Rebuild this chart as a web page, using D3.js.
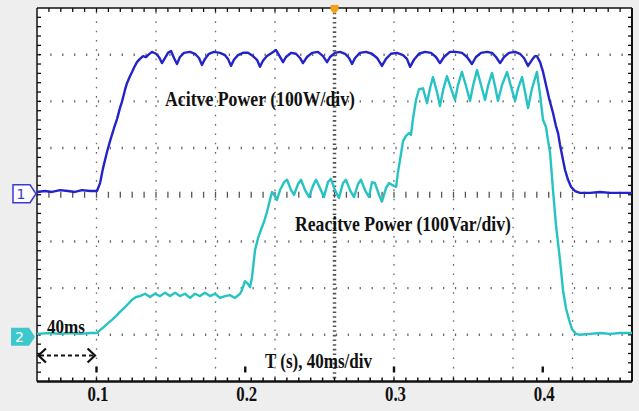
<!DOCTYPE html>
<html><head><meta charset="utf-8">
<script src="https://cdn.jsdelivr.net/npm/d3@7"></script>
<style>html,body{margin:0;padding:0;background:#eeeeee;}svg{display:block;}</style>
</head><body>
<svg id="c" width="639" height="411"></svg>
<script>
// ---- data (time in ms, power in W / Var) ----
const timeP = [60.0,65.4,70.1,75.5,80.8,85.5,90.3,95.6,100.3,102.4,104.4,107.1,109.1,111.8,113.8,115.8,117.1,119.2,120.5,122.5,123.9,125.2,127.2,129.2,131.3,133.3,134.6,137.3,140.0,142.0,144.0,146.1,148.1,150.1,152.1,154.1,156.1,158.8,162.9,166.2,168.9,170.9,172.9,175.6,179.0,183.0,186.4,188.4,190.4,192.4,195.1,198.5,201.8,205.2,207.9,209.9,211.9,214.6,218.0,220.7,222.7,225.4,227.4,230.8,234.1,236.8,238.8,241.5,244.9,248.9,252.3,255.0,257.0,260.3,263.7,267.1,269.8,271.8,273.8,277.1,281.2,285.2,288.6,291.9,294.6,298.0,302.0,306.1,308.7,310.8,313.4,316.8,320.8,324.9,328.2,330.9,333.6,337.6,341.7,345.7,349.1,352.4,355.1,358.5,362.5,365.9,368.6,371.3,374.0,377.3,381.4,384.7,387.4,390.1,392.8,394.8,396.1,398.2,400.2,402.2,404.2,406.9,408.9,410.3,411.6,413.6,415.0,417.0,419.0,421.7,425.0,431.8,438.5,445.2,451.9,460.0];
const activePower = [6,8,6,10,8,6,10,8,8,25,57,92,115,143,162,186,199,225,239,254,263,272,284,291,297,295,299,306,302,295,282,293,304,308,293,280,295,304,306,302,293,278,291,302,306,304,299,291,276,289,299,304,304,297,289,274,287,297,304,310,299,284,295,304,302,293,282,295,304,306,297,284,295,304,306,302,293,280,293,304,306,302,293,276,291,302,304,299,291,274,289,302,306,304,295,282,295,306,306,304,295,280,295,304,306,304,295,282,295,304,306,302,293,276,289,297,297,284,263,235,207,175,147,132,107,75,53,32,17,8,4,4,6,4,4,4];

const timeQ = [60.0,68.7,75.5,82.2,88.9,95.6,100.3,102.4,105.0,107.7,110.4,113.1,115.8,118.5,121.2,123.9,126.6,129.2,132.6,136.0,139.3,142.7,146.1,149.4,152.8,156.1,159.5,162.9,166.2,169.6,172.9,176.3,179.7,183.0,186.4,189.7,193.1,196.5,197.8,199.8,201.8,203.2,204.5,206.6,208.6,210.6,212.6,214.6,216.6,218.0,220.0,221.3,223.4,226.1,228.1,230.8,232.8,235.5,237.5,240.2,242.9,245.5,247.6,250.3,252.9,255.6,257.6,260.3,263.0,265.7,267.7,270.4,273.1,275.8,277.8,280.5,283.2,285.2,287.2,289.9,291.9,294.6,296.6,298.7,301.4,302.7,304.0,306.1,308.1,310.1,311.4,312.8,314.8,316.8,319.5,322.2,324.2,326.2,328.9,330.9,333.0,335.6,338.3,341.0,343.0,345.7,348.4,351.1,353.1,355.8,358.5,361.2,363.2,365.9,367.9,369.9,372.6,376.0,378.7,381.4,383.4,386.1,388.1,390.1,392.8,396.1,398.2,400.2,402.2,403.5,404.9,406.9,408.9,411.6,413.6,415.6,417.7,419.7,422.4,425.0,431.8,438.5,445.2,451.9,460.0];
const reactivePower = [2,4,2,4,2,4,4,10,17,25,32,40,49,57,66,75,81,83,88,81,88,83,90,83,90,83,88,79,88,83,90,83,88,79,83,85,79,88,96,115,109,102,122,182,207,225,242,263,289,306,297,289,310,327,332,310,300,323,332,310,295,319,332,314,295,327,334,310,293,325,332,310,295,323,332,310,295,327,325,300,285,314,325,321,317,349,374,415,426,432,428,464,503,526,528,496,528,552,520,490,524,554,528,503,535,563,533,501,533,567,535,503,533,561,533,501,535,563,531,501,528,552,520,486,528,563,514,460,445,417,391,310,235,160,96,57,32,12,2,0,2,4,2,4,4];

const xTickValues = [100, 200, 300, 400];
const xTickLabels = ["0.1", "0.2", "0.3", "0.4"];
const labels = ["Acitve Power (100W/div)", "Reacitve Power (100Var/div)", "40ms", "T (s), 40ms/div"];

// ---- layout ----
const svg = d3.select("#c");
const L = 37, R = 632, T = 8, B = 381.5;
const x = d3.scaleLinear().domain([60, 460]).range([L, R]);
const y = d3.scaleLinear().domain([-4, 4]).range([B, T]);
const divX = (R - L) / 10, divY = (B - T) / 8;

svg.append("rect").attr("width", 639).attr("height", 411).attr("fill", "#eeeeee");
svg.append("rect").attr("x", L).attr("y", T).attr("width", R - L).attr("height", B - T).attr("fill", "#ffffff");

const grid = svg.append("g");
// vertical dotted grid lines
for (let k = 1; k < 10; k++) {
  const gx = x(60 + 40 * k);
  if (k === 5) continue;
  grid.append("line").attr("x1", gx).attr("x2", gx).attr("y1", T + 4).attr("y2", B)
    .attr("stroke", "#6a6a6a").attr("stroke-width", 1.3).attr("stroke-dasharray", `1.6 ${divY / 5 - 1.6}`);
}
// horizontal dotted grid lines
for (let j = -3; j <= 3; j++) {
  const gy = y(j);
  if (j === 0) continue;
  grid.append("line").attr("x1", L + 2).attr("x2", R).attr("y1", gy).attr("y2", gy)
    .attr("stroke", "#6a6a6a").attr("stroke-width", 2.4).attr("stroke-dasharray", `1.3 ${divX / 5 - 1.3}`)
    .attr("stroke-dashoffset", -divX / 5 + 0.65);
}
// centre axes with ticks
const cx = x(260), cy = y(0);
for (let i = 1; i < 50; i++) {
  const tx = L + i * divX / 5;
  grid.append("line").attr("x1", tx).attr("x2", tx).attr("y1", cy - 3).attr("y2", cy + 3)
    .attr("stroke", "#555").attr("stroke-width", 1.3);
}
grid.append("line").attr("x1", cx).attr("x2", cx).attr("y1", T).attr("y2", B)
  .attr("stroke", "#555").attr("stroke-width", 3.5).attr("stroke-dasharray", `1.6 ${divY / 10 - 1.6}`);

// frame
const frame = svg.append("g").attr("stroke", "#111");
frame.append("line").attr("x1", L).attr("x2", R).attr("y1", T).attr("y2", T).attr("stroke-width", 1.5);
frame.append("line").attr("x1", L).attr("x2", L).attr("y1", T).attr("y2", B).attr("stroke-width", 1.5);
frame.append("line").attr("x1", R).attr("x2", R).attr("y1", T).attr("y2", B).attr("stroke-width", 2);
frame.append("line").attr("x1", L).attr("x2", R).attr("y1", B).attr("y2", B).attr("stroke-width", 2.5);
for (let i = 1; i < 50; i++) {
  const tx = L + i * divX / 5;
  frame.append("line").attr("x1", tx).attr("x2", tx).attr("y1", T).attr("y2", T + 4).attr("stroke-width", 1.3);
  frame.append("line").attr("x1", tx).attr("x2", tx).attr("y1", B - 4).attr("y2", B).attr("stroke-width", 1.5);
}
for (let i = 1; i < 40; i++) {
  const ty = T + i * divY / 5;
  frame.append("line").attr("x1", L).attr("x2", L + 4).attr("y1", ty).attr("y2", ty).attr("stroke-width", 1.3);
  frame.append("line").attr("x1", R - 4).attr("x2", R).attr("y1", ty).attr("y2", ty).attr("stroke-width", 1.3);
}

// x axis tick marks + labels
xTickValues.forEach((v, i) => {
  svg.append("rect").attr("x", x(v) - 1.2).attr("y", B - 15).attr("width", 2.4).attr("height", 6).attr("fill", "#111");
  svg.append("text").attr("x", x(v) + 1.5).attr("y", 401).attr("text-anchor", "middle")
    .attr("font-family", "Liberation Serif, Times New Roman, serif").attr("font-weight", "bold")
    .attr("font-size", 21).attr("textLength", 21).attr("lengthAdjust", "spacingAndGlyphs")
    .attr("fill", "#111").text(xTickLabels[i]);
});

// traces
const lineP = d3.line().x((d, i) => x(timeP[i])).y(d => y(d / 100));
const lineQ = d3.line().x((d, i) => x(timeQ[i])).y(d => y(d / 100 - 3));
svg.append("path").attr("d", lineQ(reactivePower)).attr("fill", "none")
  .attr("stroke", "#27c3c3").attr("stroke-width", 2.4).attr("stroke-linejoin", "round");
svg.append("path").attr("d", lineP(activePower)).attr("fill", "none")
  .attr("stroke", "#2323c8").attr("stroke-width", 2.4).attr("stroke-linejoin", "round");

// channel markers
const m1y = y(0) - 1;
svg.append("path").attr("d", `M13,${m1y - 9} H30 L36,${m1y} L30,${m1y + 9} H13 Z`)
  .attr("fill", "#fff").attr("stroke", "#3a3ad8").attr("stroke-width", 1.5);
svg.append("text").attr("x", 21).attr("y", m1y + 5.5).attr("text-anchor", "middle")
  .attr("font-family", "DejaVu Sans, sans-serif").attr("font-size", 14).attr("fill", "#3a3ad8").text("1");
const m2y = y(-3) + 2;
svg.append("path").attr("d", `M11,${m2y - 9} H29 L35,${m2y} L29,${m2y + 9} H11 Z`).attr("fill", "#3cc8cc");
svg.append("text").attr("x", 19.5).attr("y", m2y + 5.5).attr("text-anchor", "middle")
  .attr("font-family", "DejaVu Sans, sans-serif").attr("font-size", 14).attr("fill", "#ffffff").text("2");

// trigger marker
svg.append("path").attr("d", `M${cx - 4},5 H${cx + 4} V10 L${cx},14 L${cx - 4},10 Z`).attr("fill", "#f2a01e");

// annotations
function label(txt, x0, yb, size, len) {
  svg.append("text").attr("x", x0).attr("y", yb)
    .attr("font-family", "Liberation Serif, Times New Roman, serif").attr("font-weight", "bold")
    .attr("font-size", size).attr("textLength", len).attr("lengthAdjust", "spacingAndGlyphs")
    .attr("fill", "#111").text(txt);
}
label(labels[0], 165, 106, 22, 190);
label(labels[1], 295, 231, 22, 216);
label(labels[2], 47, 333, 19, 38);
label(labels[3], 265, 368, 20, 107);

// 40 ms arrow
const ay = 355.5;
svg.append("line").attr("x1", x(62)).attr("x2", x(98)).attr("y1", ay).attr("y2", ay)
  .attr("stroke", "#111").attr("stroke-width", 2).attr("stroke-dasharray", "4 3");
svg.append("path").attr("d", `M${x(66)},${ay - 7} L${x(61)},${ay} L${x(66)},${ay + 7}`).attr("fill", "none").attr("stroke", "#111").attr("stroke-width", 2.2);
svg.append("path").attr("d", `M${x(94)},${ay - 7} L${x(99)},${ay} L${x(94)},${ay + 7}`).attr("fill", "none").attr("stroke", "#111").attr("stroke-width", 2.2);
</script>
</body></html>
